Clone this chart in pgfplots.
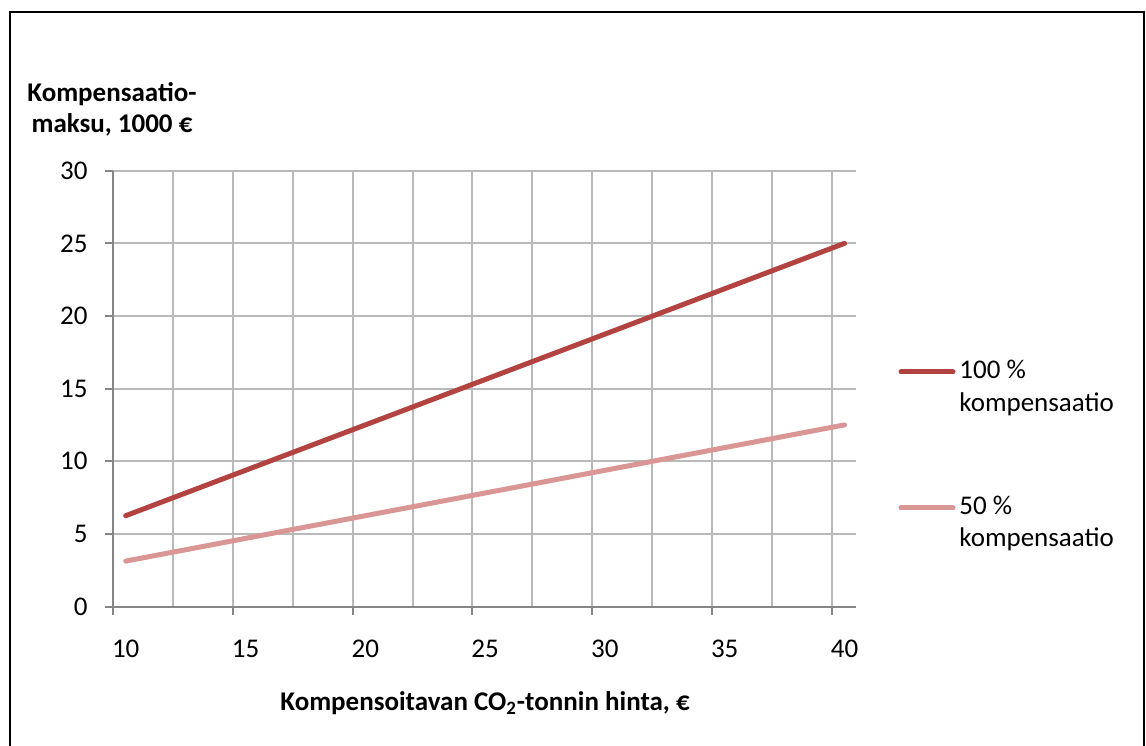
\documentclass[border=0pt]{standalone}
\usepackage{pgfplots}
\pgfplotsset{compat=1.18}
\usepackage{fontspec}
\setmainfont{Carlito}
\definecolor{darkred}{RGB}{178,67,64}
\definecolor{lightred}{RGB}{217,150,148}
\definecolor{gridgray}{RGB}{185,185,185}
\definecolor{axisgray}{RGB}{134,134,134}
\begin{document}
\begin{tikzpicture}
\fontsize{13.5bp}{16bp}\selectfont
\useasboundingbox (0,0) rectangle (573bp,373bp);
\draw[line width=1.2bp] (5bp,-5bp) -- (5bp,367bp) -- (572bp,367bp) -- (572bp,-5bp);
\begin{axis}[
 at={(56.5bp,69.75bp)}, anchor=south west, scale only axis,
 width=371.5bp, height=217.9bp,
 xmin=9.47, xmax=40.48, ymin=0, ymax=30,
 axis x line*=bottom, axis y line*=left,
 axis line style={-, draw=axisgray, line width=1bp},
 xtick={9.47,14.47,19.47,24.47,29.47,34.47,39.47},
 xticklabels={10,15,20,25,30,35,40},
 minor xtick={11.97,16.97,21.97,26.97,31.97,36.97},
 ytick={0,5,10,15,20,25,30},
 grid=both,
 major grid style={draw=gridgray, line width=1bp},
 minor grid style={draw=gridgray, line width=1bp},
 tick align=outside, major tick length=4bp, minor tick length=0pt,
 tick style={draw=axisgray, line width=1bp},
 xticklabel style={anchor=base, xshift=6.35bp, yshift=-21.25bp, inner sep=0pt},
 yticklabel style={anchor=east, xshift=-8.5bp, inner sep=0pt},
 ticklabel style={font=\fontsize{13.5bp}{16bp}\selectfont},
 /pgf/number format/assume math mode=true,
 clip=false,
]
\addplot[darkred, line width=2.5bp, line cap=round] coordinates {(10,6.25) (15,9.375) (20,12.5) (25,15.625) (30,18.75) (35,21.875) (40,25)};
\addplot[lightred, line width=2.5bp, line cap=round] coordinates {(10,3.125) (15,4.6875) (20,6.25) (25,7.8125) (30,9.375) (35,10.9375) (40,12.5)};
\end{axis}
\node[anchor=base, font=\bfseries] at (56bp,322bp) {Kompensaatio-};
\node[anchor=base, font=\bfseries] at (56bp,306.5bp) {maksu, 1000 €};
\node[anchor=base, font=\bfseries] at (242.5bp,18bp) {Kompensoitavan CO\textsubscript{2}-tonnin hinta, €};
\draw[darkred, line width=2.5bp, line cap=round] (450.5bp,187bp) -- (476.5bp,187bp);
\node[anchor=base west, inner sep=0pt] at (479.5bp,183.5bp) {100 \%};
\node[anchor=base west, inner sep=0pt] at (479.5bp,167bp) {kompensaatio};
\draw[lightred, line width=2.5bp, line cap=round] (450.5bp,119bp) -- (476.5bp,119bp);
\node[anchor=base west, inner sep=0pt] at (479.5bp,115.5bp) {50 \%};
\node[anchor=base west, inner sep=0pt] at (479.5bp,99.5bp) {kompensaatio};
\end{tikzpicture}
\end{document}
